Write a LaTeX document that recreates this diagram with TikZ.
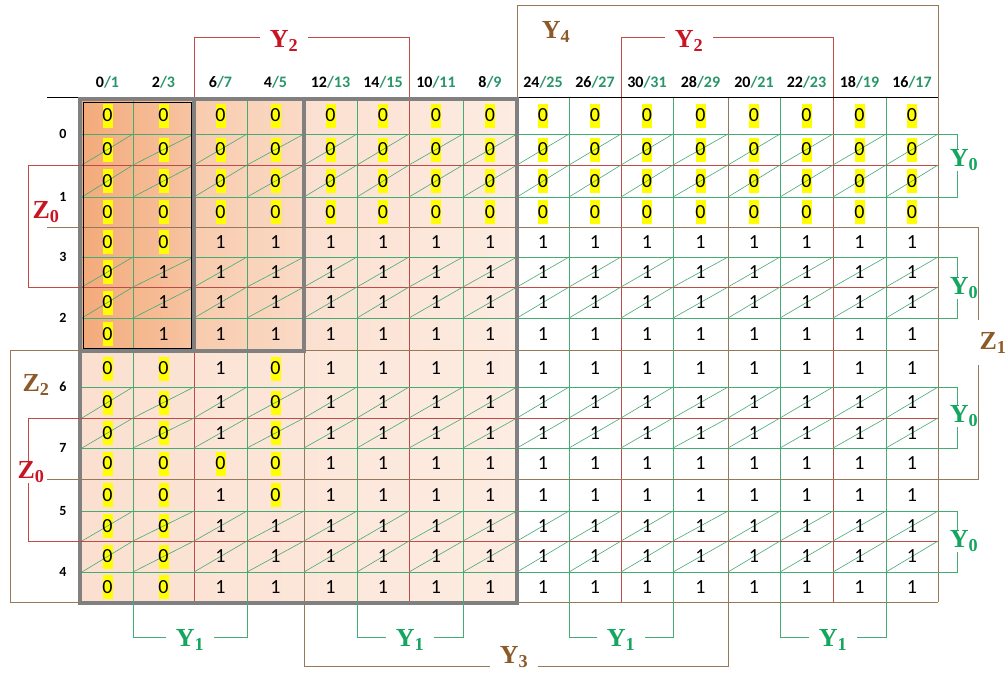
\documentclass[tikz,border=0pt]{standalone}
\usepackage{fontspec}
\setmainfont{Carlito}
\newfontfamily\lblfont{Liberation Serif}
\definecolor{kgreen}{RGB}{70,170,115}
\definecolor{kred}{RGB}{190,75,70}
\definecolor{kbrown}{RGB}{150,120,90}
\definecolor{tred}{RGB}{200,20,35}
\definecolor{tbrown}{RGB}{140,90,40}
\definecolor{tgreen}{RGB}{20,165,95}
\definecolor{hgreen}{RGB}{40,150,105}
\definecolor{oAa}{RGB}{243,170,122}
\definecolor{oAb}{RGB}{247,196,162}
\definecolor{oBa}{RGB}{248,203,173}
\definecolor{oBb}{RGB}{250,218,198}
\definecolor{oCa}{RGB}{251,224,208}
\definecolor{oCb}{RGB}{253,236,226}
\definecolor{kyellow}{RGB}{255,255,0}
\definecolor{kgray}{RGB}{128,128,128}
\newcommand\kx[1]{\ifcase#1 82\or 133\or 194\or 247\or 304\or 357\or 409\or 463\or 517\or 569\or 621\or 673\or 728\or 780\or 833\or 886\or 938\fi}
\newcommand\ky[1]{\ifcase#1 97\or 134\or 165\or 197\or 227\or 257\or 287\or 318\or 350\or 387\or 418\or 448\or 479\or 511\or 541\or 572\or 602\fi}
\newcommand\kcell[2]{% #1 row, #2 col -> \xl \xr \yt \yb \xm \ym
  \edef\xl{\kx{#2}}\edef\xr{\kx{\the\numexpr#2+1\relax}}%
  \edef\yt{\ky{#1}}\edef\yb{\ky{\the\numexpr#1+1\relax}}%
  \pgfmathsetmacro\xm{(\xl+\xr)/2}%
  \pgfmathsetmacro\ym{(\yt+\yb)/2}}
\newcommand\kvals{%
 {0,0,0,0,0,0,0,0,0,0,0,0,0,0,0,0},
 {0,0,0,0,0,0,0,0,0,0,0,0,0,0,0,0},
 {0,0,0,0,0,0,0,0,0,0,0,0,0,0,0,0},
 {0,0,0,0,0,0,0,0,0,0,0,0,0,0,0,0},
 {0,0,1,1,1,1,1,1,1,1,1,1,1,1,1,1},
 {0,1,1,1,1,1,1,1,1,1,1,1,1,1,1,1},
 {0,1,1,1,1,1,1,1,1,1,1,1,1,1,1,1},
 {0,1,1,1,1,1,1,1,1,1,1,1,1,1,1,1},
 {0,0,1,0,1,1,1,1,1,1,1,1,1,1,1,1},
 {0,0,1,0,1,1,1,1,1,1,1,1,1,1,1,1},
 {0,0,1,0,1,1,1,1,1,1,1,1,1,1,1,1},
 {0,0,0,0,1,1,1,1,1,1,1,1,1,1,1,1},
 {0,0,1,0,1,1,1,1,1,1,1,1,1,1,1,1},
 {0,0,1,1,1,1,1,1,1,1,1,1,1,1,1,1},
 {0,0,1,1,1,1,1,1,1,1,1,1,1,1,1,1},
 {0,0,1,1,1,1,1,1,1,1,1,1,1,1,1,1}}
\begin{document}
\begin{tikzpicture}[x=1pt,y=-1pt,
 cellv/.style={font=\fontsize{20}{20}\selectfont, inner sep=0pt},
 hdr/.style={font=\fontsize{16}{16}\selectfont\bfseries, inner sep=0pt},
 rowl/.style={font=\fontsize{14}{14}\selectfont\bfseries, inner sep=0pt},
 lbl/.style={font=\lblfont\fontsize{26}{26}\selectfont\bfseries, inner sep=1pt},
 gapl/.style={lbl, fill=white, inner xsep=10pt},
 brk/.style={line width=1pt},
 gridl/.style={line width=0.9pt},
 diag/.style={kgreen, line width=0.6pt},
 graybox/.style={kgray, line width=3.5pt},
]
\useasboundingbox (0,0) rectangle (1006,673);
\fill[white] (0,0) rectangle (1006,673);

% shading
\shade[left color=oAa,right color=oAb] (82,97) rectangle (194,350);
\shade[left color=oBa,right color=oBb] (194,97) rectangle (304,350);
\shade[left color=oCa,right color=oCb] (304,97) rectangle (517,350);
\shade[left color=oCa,right color=oCb] (82,350) rectangle (517,602);

% yellow highlights
\foreach \row [count=\r from 0] in \kvals {
  \foreach \v [count=\c from 0] in \row {
    \ifnum\v=0
      \kcell{\r}{\c}
      \fill[kyellow] (\xm-5,\ym-12) rectangle (\xm+5,\ym+12);
    \fi
  }
}

% grid lines
\foreach \x/\cl in {133/kgreen,194/kred,247/kgreen,304/kbrown,357/kgreen,409/kred,463/kgreen,517/kbrown,569/kgreen,621/kred,673/kgreen,728/kbrown,780/kgreen,833/kred,886/kgreen,938/kbrown}
  \draw[gridl,\cl] (\x,97) -- (\x,602);
\foreach \y/\cl in {134/kgreen,165/kred,197/kgreen,227/kbrown,257/kgreen,287/kred,318/kgreen,350/kbrown,387/kgreen,418/kred,448/kgreen,479/kbrown,511/kgreen,541/kred,572/kgreen,602/kbrown}
  \draw[gridl,\cl] (82,\y) -- (938,\y);
\draw[gridl,black] (47,97) -- (938,97);

% diagonals
\foreach \r in {1,2,5,6,9,10,13,14} {
  \foreach \c in {0,...,15} {
    \kcell{\r}{\c}
    \draw[diag] (\xl,\yb) -- (\xr,\yt);
  }
}

% cell values
\foreach \row [count=\r from 0] in \kvals {
  \foreach \v [count=\c from 0] in \row {
    \kcell{\r}{\c}
    \node[cellv] (c-\r-\c) at (\xm,\ym) {\v};
  }
}

% gray boxes
\draw[graybox] (80,99) rectangle (517,603);
\draw[graybox] (80,99) rectangle (194,351);
\draw[graybox] (194,99) rectangle (304,351);
\draw[black,line width=0.8pt] (83,102) rectangle (191,348);

% column headers
\foreach \a/\b [count=\c from 0] in {0/1,2/3,6/7,4/5,12/13,14/15,10/11,8/9,24/25,26/27,30/31,28/29,20/21,22/23,18/19,16/17} {
  \kcell{0}{\c}
  \node[hdr] (h\c) at (\xm,82) {\a\textcolor{hgreen}{/\b}};
}

% row headers
\foreach \lab/\y in {0/134,1/197,3/257,2/318,6/387,7/448,5/511,4/572}
  \node[rowl] (rl\lab) at (63,\y) {\lab};

% left extension lines
\draw[gridl,kbrown] (47,227) -- (82,227);
\draw[gridl,kbrown] (47,479) -- (82,479);

% top brackets
\draw[brk,kred] (194,97) -- (194,37) -- (409,37) -- (409,97);
\node[gapl,text=tred] (y2a) at (284,41) {Y\textsubscript{2}};
\draw[brk,kred] (621,97) -- (621,37) -- (833,37) -- (833,97);
\node[gapl,text=tred] (y2b) at (689,41) {Y\textsubscript{2}};
\draw[brk,kbrown] (517,97) -- (517,5) -- (938,5) -- (938,97);
\node[lbl,text=tbrown] (y4) at (556,32) {Y\textsubscript{4}};

% right brackets
\foreach \ya/\yb/\ym [count=\i] in {134/197/160,257/318/288,387/448/416,511/572/541} {
  \draw[brk,kgreen] (938,\ya) -- (957,\ya) -- (957,\yb) -- (938,\yb);
  \node[lbl,text=tgreen,fill=white] (y0\i) at (964,\ym) {Y\textsubscript{0}};
}
\draw[brk,kbrown] (938,227) -- (978,227) -- (978,320);
\draw[brk,kbrown] (978,365) -- (978,479) -- (938,479);
\node[lbl,text=tbrown] (z1) at (993,343) {Z\textsubscript{1}};

% left brackets
\draw[brk,kred] (82,165) -- (28,165) -- (28,287) -- (82,287);
\node[lbl,text=tred] (z0a) at (46,212) {Z\textsubscript{0}};
\draw[brk,kred] (82,418) -- (28,418) -- (28,541) -- (82,541);
\node[lbl,text=tred,fill=white] (z0b) at (31,472) {Z\textsubscript{0}};
\draw[brk,kbrown] (82,350) -- (10,350) -- (10,602) -- (82,602);
\node[lbl,text=tbrown] (z2) at (36,385) {Z\textsubscript{2}};

% bottom brackets
\foreach \xa/\xb [count=\i] in {133/247,357/463,569/673,780/886} {
  \draw[brk,kgreen] (\xa,602) -- (\xa,637) -- (\xb,637) -- (\xb,602);
  \node[gapl,text=tgreen] (y1\i) at ({(\xa+\xb)/2},640) {Y\textsubscript{1}};
}
\draw[brk,kbrown] (304,603) -- (304,666) -- (728,666) -- (728,602);
\node[gapl,text=tbrown,inner ysep=0pt] (y3) at (514,657) {Y\textsubscript{3}};
\end{tikzpicture}
\end{document}
